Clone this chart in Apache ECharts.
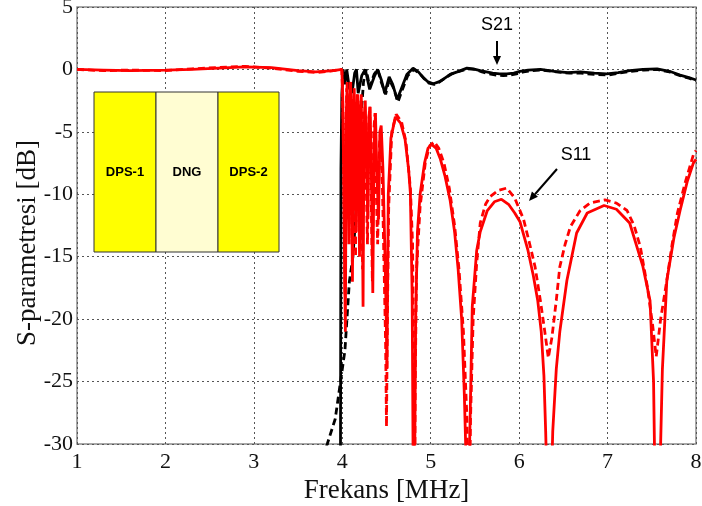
<!DOCTYPE html>
<html>
<head>
<meta charset="utf-8">
<script src="https://cdn.jsdelivr.net/npm/echarts@6/dist/echarts.min.js"></script>
<style>html,body{margin:0;padding:0;background:#fff;}#c{width:702px;height:506px;}</style>
</head>
<body>
<div id="c"></div>
<script>
// ---- data ----
const xTicks = [1,2,3,4,5,6,7,8];
const yTicks = [-30,-25,-20,-15,-10,-5,0,5];

const s11SolidX = [1.0,1.3,1.6,2.0,2.3,2.6,2.9,3.2,3.5,3.7,3.9,3.995,
  4.005,4.015,4.025,4.035,4.045,4.055,4.065,4.075,4.085,4.095,4.105,4.115,4.125,4.135,4.145,4.155,4.165,4.175,4.185,4.195,4.205,4.215,4.225,4.235,4.245,4.26,4.275,4.29,4.30,4.315,4.33,4.345,4.36,4.375,4.39,4.41,4.425,4.44,4.46,4.48,4.495,4.505,4.52,4.55,4.60,4.66,4.71,4.75,4.77,4.79,4.80,4.81,4.82,4.83,4.85,4.88,4.93,4.97,5.01,5.06,5.11,5.16,5.22,5.27,5.31,5.35,5.38,5.395,5.42,5.44,5.47,5.52,5.56,5.64,5.72,5.80,5.88,5.95,6.01,6.10,6.16,6.21,6.25,6.28,6.30,6.34,6.38,6.42,6.46,6.54,6.65,6.77,6.96,7.10,7.25,7.40,7.48,7.52,7.53,7.565,7.60,7.62,7.67,7.75,7.82,7.90,7.97,8.0];
const s11SolidY = [0,-0.05,-0.1,-0.05,0,0.1,0.2,0.15,-0.1,-0.2,-0.1,0,
  -2,-8,-15,-21,-4,-1,-6,-14,-3,-1,-8,-17,-4,-1.5,-7,-13,-3,-2,-9,-15,-4,-2,-10,-19,-5,-2.5,-8,-12,-4,-3,-9,-17.9,-6,-3.5,-8,-12,-5,-4.5,-8,-14,-19,-24,-10,-5.5,-3.8,-4.3,-5.6,-8,-9.9,-18,-30,-40,-30,-20,-13,-10,-7.5,-6.3,-6.0,-6.3,-7.2,-8.5,-10.5,-13,-16,-20,-26,-30,-40,-30,-19,-14.5,-13,-11.3,-10.6,-10.4,-10.8,-11.5,-12.2,-14.5,-16.5,-18.5,-21,-24.5,-29,-40,-29,-24,-21,-16.9,-13.1,-11.5,-10.9,-11.2,-12.3,-15.8,-18.5,-25,-30,-40,-30,-24,-16.9,-13.5,-11.3,-9,-7.5,-7.2];

const s11DashX = [1.0,1.3,1.6,2.0,2.3,2.6,2.9,3.2,3.5,3.7,3.9,3.995,
  4.01,4.02,4.03,4.04,4.05,4.06,4.07,4.08,4.09,4.10,4.11,4.12,4.13,4.14,4.15,4.16,4.17,4.18,4.19,4.20,4.21,4.22,4.23,4.24,4.255,4.27,4.285,4.30,4.31,4.325,4.34,4.355,4.37,4.385,4.40,4.42,4.435,4.45,4.47,4.49,4.50,4.51,4.525,4.56,4.61,4.67,4.72,4.77,4.795,4.805,4.815,4.825,4.84,4.88,4.94,4.99,5.04,5.09,5.15,5.21,5.27,5.32,5.37,5.41,5.43,5.45,5.48,5.52,5.56,5.62,5.67,5.76,5.86,5.95,6.05,6.12,6.18,6.24,6.29,6.33,6.37,6.42,6.46,6.52,6.58,6.69,6.80,6.97,7.10,7.22,7.30,7.37,7.45,7.51,7.55,7.60,7.67,7.73,7.79,7.88,7.97,8.0];
const s11DashY = [0,-0.1,-0.05,-0.1,0.05,0.15,0.25,0.1,-0.15,-0.25,-0.1,0,
  -4,-11,-18,-6,-1.5,-5,-12,-3,-1,-7,-14,-3,-2,-8,-15,-4,-2,-9,-13,-3,-2.5,-8,-16,-4,-3,-9,-14,-4,-3,-9,-17,-5,-3.5,-10,-14,-6,-4.8,-8,-15,-22,-28.6,-20,-11,-5,-3.6,-4.2,-5.8,-9.5,-14,-22,-40,-25,-16,-11,-7.4,-6.1,-5.8,-6.3,-7.5,-9.5,-12.5,-16,-21,-28,-40,-28,-20,-15.5,-12.3,-10.8,-10.2,-9.7,-9.5,-10.3,-12,-14,-15.8,-18.5,-21,-23.1,-21.5,-18.5,-15.8,-14,-12.6,-11.3,-10.7,-10.45,-10.7,-11.3,-12.5,-14.2,-17.4,-20.5,-23,-20,-16.9,-14,-11.5,-9,-6.85,-6.5];

const s21SolidX = [3.97,3.98,3.985,3.995,4.01,4.03,4.05,4.08,4.11,4.14,4.16,4.18,4.22,4.26,4.31,4.36,4.40,4.44,4.48,4.53,4.57,4.62,4.67,4.73,4.80,4.86,4.91,4.97,5.03,5.09,5.14,5.22,5.30,5.41,5.48,5.56,5.63,5.70,5.78,5.86,5.94,6.01,6.10,6.24,6.40,6.55,6.69,6.85,6.99,7.12,7.25,7.40,7.56,7.70,7.82,7.92,8.0];
const s21SolidY = [-40,-30,-8,-2,0,-1.2,0,-1.5,-1.9,-0.3,0,-1.9,-0.5,0,-1.6,-0.6,0,-0.8,-1.9,-0.6,-1.2,-2.4,-1.5,-0.4,0.1,-0.2,-0.6,-1.0,-1.15,-1.0,-0.8,-0.4,-0.2,0.1,0.05,-0.1,-0.2,-0.3,-0.35,-0.35,-0.3,-0.15,-0.05,0,-0.15,-0.25,-0.2,-0.3,-0.35,-0.25,-0.1,0,0.05,-0.15,-0.45,-0.65,-0.85];

const s21DashX = [3.78,3.83,3.92,3.98,4.03,4.08,4.12,4.15,4.18,4.21,4.24,4.27,4.31,4.36,4.40,4.44,4.49,4.53,4.58,4.63,4.68,4.74,4.81,4.87,4.92,4.98,5.04,5.10,5.16,5.24,5.32,5.42,5.50,5.58,5.66,5.74,5.82,5.90,5.97,6.05,6.15,6.26,6.42,6.57,6.70,6.85,7.00,7.13,7.26,7.41,7.56,7.70,7.82,7.92,8.0];
const s21DashY = [-31,-30,-28,-25,-22.5,-17,-15,-12,-8,-4,-1,0,-1.4,-0.4,0,-1,-2,-0.8,-1.5,-2.6,-1.6,-0.5,0,-0.3,-0.7,-1.1,-1.2,-1.0,-0.7,-0.35,-0.15,0.05,0,-0.2,-0.35,-0.45,-0.5,-0.45,-0.35,-0.2,-0.1,-0.05,-0.2,-0.3,-0.3,-0.4,-0.45,-0.3,-0.15,-0.05,0,-0.2,-0.5,-0.7,-0.9];

const insetLabels = ['DPS-1','DNG','DPS-2'];
const annotations = ['S21','S11'];
const xTitle = 'Frekans [MHz]';
const yTitle = 'S-parametresi [dB]';

function pairs(xs, ys){ return xs.map((x,i)=>[x, ys[i]]); }

const chart = echarts.init(document.getElementById('c'), null, {renderer:'canvas'});
const serif = 'Liberation Serif, Times New Roman, serif';
const sans = 'Liberation Sans, Arial, sans-serif';

const L = 77, T = 7, R = 696, B = 444;

function arrow(x1,y1,x2,y2){
  const ang = Math.atan2(y2-y1, x2-x1), h = 9, w = 4;
  const bx = x2 - h*Math.cos(ang), by = y2 - h*Math.sin(ang);
  const px = -Math.sin(ang)*w, py = Math.cos(ang)*w;
  return [
    {type:'line', shape:{x1:x1,y1:y1,x2:bx,y2:by}, style:{stroke:'#000', lineWidth:2}, z:100},
    {type:'polygon', shape:{points:[[x2,y2],[bx+px,by+py],[bx-px,by-py]]}, style:{fill:'#000'}, z:100}
  ];
}

const insetX = [94,156,218,279], insetTop = 92, insetBot = 252;
const insetFill = ['#FFFF00','#FFFDD2','#FFFF00'];
const graphics = [];
for (let i=0;i<3;i++){
  graphics.push({type:'rect', shape:{x:insetX[i], y:insetTop, width:insetX[i+1]-insetX[i], height:insetBot-insetTop},
    style:{fill:insetFill[i], stroke:'#333', lineWidth:1}, z:100});
  graphics.push({type:'text', x:(insetX[i]+insetX[i+1])/2, y:(insetTop+insetBot)/2,
    style:{text:insetLabels[i], font:'bold 13px '+sans, fill:'#000', align:'center', verticalAlign:'middle'}, z:101});
}
graphics.push({type:'text', x:497, y:25, style:{text:annotations[0], font:'18px '+sans, fill:'#000', align:'center', verticalAlign:'middle'}, z:100});
graphics.push(...arrow(497,41,497,65));
graphics.push({type:'text', x:576, y:155, style:{text:annotations[1], font:'18px '+sans, fill:'#000', align:'center', verticalAlign:'middle'}, z:100});
graphics.push(...arrow(557,169,529,201));
graphics.push({type:'text', x:28, y:243, rotation:Math.PI/2,
  style:{text:yTitle, font:'27px '+serif, fill:'#111', align:'center', verticalAlign:'middle'}, z:100});

chart.setOption({
  backgroundColor:'#fff',
  animation:false,
  grid:{left:L, top:T, right:702-R, bottom:506-B, outerBoundsMode:'none', containLabel:false,
    show:true, borderColor:'#8c8c8c', borderWidth:1.5, backgroundColor:'transparent'},
  xAxis:{type:'value', min:1, max:8, interval:1,
    name:xTitle, nameLocation:'middle', nameGap:29,
    nameTextStyle:{fontFamily:serif, fontSize:27, color:'#111'},
    axisLine:{show:false}, axisTick:{show:false},
    axisLabel:{fontFamily:serif, fontSize:22, color:'#111', margin:7, formatter:v=>String(v)},
    splitLine:{show:true, lineStyle:{type:[2,3], color:'#555', width:1}}},
  yAxis:{type:'value', min:-30, max:5, interval:5,
    axisLine:{show:false}, axisTick:{show:false},
    axisLabel:{fontFamily:serif, fontSize:22, color:'#111', margin:4, formatter:v=>String(v)},
    splitLine:{show:true, lineStyle:{type:[2,3], color:'#555', width:1}}},
  series:[
    {type:'line', name:'S21 dashed', data:pairs(s21DashX,s21DashY), showSymbol:false, clip:true,
      lineStyle:{color:'#000', width:2.8, type:[7,4]}},
    {type:'line', name:'S21', data:pairs(s21SolidX,s21SolidY), showSymbol:false, clip:true,
      lineStyle:{color:'#000', width:2.8}},
    {type:'line', name:'S11 dashed', data:pairs(s11DashX,s11DashY), showSymbol:false, clip:true,
      lineStyle:{color:'#ff0000', width:2.8, type:[7,4]}},
    {type:'line', name:'S11', data:pairs(s11SolidX,s11SolidY), showSymbol:false, clip:true,
      lineStyle:{color:'#ff0000', width:2.8}}
  ],
  graphic:graphics
});
</script>
</body>
</html>
